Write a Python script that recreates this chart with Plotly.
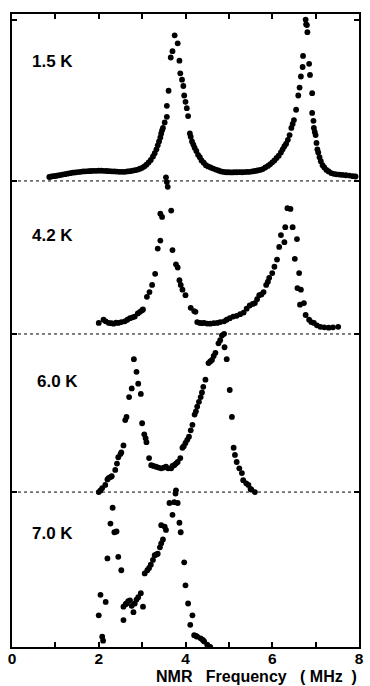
import plotly.graph_objects as go

# NMR spectra at four temperatures, stacked with vertical offsets
temps = ["1.5 K", "4.2 K", "6.0 K", "7.0 K"]
offsets = [2.945, 1.978, 0.979, 0.0]

freq_15 = [0.86, 0.91, 0.96, 1.01, 1.06, 1.11, 1.16, 1.22, 1.28, 1.34, 1.40, 1.46, 1.52, 1.58,
           1.64, 1.70, 1.76, 1.82, 1.88, 1.94, 2.00, 2.06, 2.12, 2.18, 2.24, 2.30, 2.36, 2.42,
           2.48, 2.54, 2.60, 2.66, 2.72, 2.78, 2.84, 2.90, 2.95, 3.00, 3.05, 3.10, 3.15, 3.20,
           3.25, 3.29, 3.33, 3.36, 3.39, 3.42, 3.44, 3.46, 3.48, 3.52, 3.57, 3.57, 3.61, 3.66,
           3.70, 3.75, 3.82, 3.86, 3.88, 3.92, 3.95, 3.97, 4.00, 4.03, 4.06, 4.10, 4.12, 4.15,
           4.18, 4.21, 4.25, 4.29, 4.33, 4.37, 4.42, 4.47, 4.52, 4.58, 4.64, 4.70, 4.76, 4.82,
           4.88, 4.94, 5.00, 5.06, 5.12, 5.18, 5.24, 5.30, 5.36, 5.42, 5.48, 5.54, 5.60, 5.66,
           5.72, 5.78, 5.84, 5.90, 5.95, 6.00, 6.05, 6.10, 6.15, 6.20, 6.24, 6.28, 6.32, 6.36,
           6.40, 6.44, 6.47, 6.50, 6.55, 6.60, 6.63, 6.66, 6.70, 6.71, 6.77, 6.78, 6.80, 6.81,
           6.85, 6.87, 6.92, 6.92, 6.95, 6.96, 6.98, 7.00, 7.02, 7.04, 7.06, 7.09, 7.12, 7.16,
           7.20, 7.25, 7.30, 7.36, 7.42, 7.48, 7.55, 7.62, 7.70, 7.78, 7.86, 7.92]
amp_15 = [0.025, 0.028, 0.030, 0.032, 0.035, 0.037, 0.040, 0.043, 0.046, 0.049, 0.052, 0.054, 0.056, 0.058,
          0.060, 0.061, 0.062, 0.063, 0.064, 0.064, 0.065, 0.065, 0.064, 0.063, 0.062, 0.061, 0.060, 0.059,
          0.058, 0.058, 0.058, 0.060, 0.062, 0.065, 0.068, 0.072, 0.077, 0.083, 0.092, 0.103, 0.117, 0.133,
          0.155, 0.175, 0.200, 0.225, 0.250, 0.275, 0.300, 0.320, 0.335, 0.370, 0.405, 0.475, 0.570, 0.780,
          0.820, 0.920, 0.870, 0.760, 0.680, 0.640, 0.600, 0.540, 0.500, 0.460, 0.410, 0.300, 0.280, 0.250,
          0.230, 0.210, 0.190, 0.165, 0.150, 0.130, 0.115, 0.100, 0.092, 0.085, 0.078, 0.072, 0.066, 0.060,
          0.057, 0.055, 0.055, 0.054, 0.055, 0.055, 0.056, 0.055, 0.056, 0.057, 0.058, 0.060, 0.063, 0.066,
          0.070, 0.075, 0.085, 0.095, 0.105, 0.118, 0.130, 0.145, 0.160, 0.180, 0.200, 0.220, 0.235, 0.260,
          0.290, 0.335, 0.360, 0.385, 0.450, 0.540, 0.590, 0.660, 0.720, 0.790, 1.020, 0.990, 0.985, 0.940,
          0.740, 0.670, 0.555, 0.430, 0.380, 0.335, 0.310, 0.290, 0.240, 0.200, 0.180, 0.150, 0.125, 0.100,
          0.085, 0.070, 0.060, 0.050, 0.045, 0.042, 0.040, 0.038, 0.036, 0.034, 0.030, 0.028]

freq_42 = [2.00, 2.11, 2.16, 2.23, 2.29, 2.34, 2.40, 2.45, 2.52, 2.60, 2.66, 2.72, 2.78, 2.83,
           2.90, 2.95, 3.00, 3.02, 3.11, 3.17, 3.23, 3.30, 3.36, 3.42, 3.42, 3.46, 3.55, 3.57,
           3.59, 3.67, 3.70, 3.78, 3.82, 3.86, 3.89, 3.93, 4.00, 4.12, 4.20, 4.23, 4.27, 4.33,
           4.38, 4.43, 4.50, 4.57, 4.65, 4.73, 4.80, 4.89, 4.95, 5.02, 5.10, 5.18, 5.26, 5.34,
           5.41, 5.48, 5.55, 5.60, 5.65, 5.70, 5.75, 5.80, 5.86, 5.90, 5.93, 6.00, 6.05, 6.11,
           6.16, 6.20, 6.28, 6.30, 6.35, 6.42, 6.47, 6.57, 6.52, 6.62, 6.58, 6.66, 6.64, 6.73,
           6.77, 6.85, 6.90, 6.96, 7.03, 7.11, 7.20, 7.30, 7.40, 7.52]
amp_42 = [0.070, 0.090, 0.080, 0.070, 0.068, 0.065, 0.072, 0.070, 0.075, 0.080, 0.090, 0.100, 0.105, 0.110,
          0.130, 0.140, 0.150, 0.155, 0.235, 0.265, 0.310, 0.380, 0.540, 0.590, 0.760, 0.740, 0.990, 0.960,
          0.930, 0.780, 0.530, 0.440, 0.420, 0.340, 0.310, 0.280, 0.245, 0.165, 0.145, 0.140, 0.075, 0.070,
          0.068, 0.070, 0.066, 0.065, 0.068, 0.070, 0.075, 0.080, 0.090, 0.100, 0.110, 0.115, 0.125, 0.135,
          0.160, 0.180, 0.190, 0.195, 0.220, 0.245, 0.250, 0.265, 0.310, 0.330, 0.355, 0.385, 0.425, 0.470,
          0.550, 0.625, 0.580, 0.675, 0.795, 0.790, 0.675, 0.600, 0.475, 0.385, 0.290, 0.280, 0.185, 0.195,
          0.120, 0.090, 0.075, 0.070, 0.055, 0.045, 0.042, 0.040, 0.042, 0.045]

freq_60 = [2.00, 2.04, 2.08, 2.15, 2.20, 2.23, 2.27, 2.30, 2.38, 2.42, 2.45, 2.50, 2.52, 2.57,
           2.61, 2.64, 2.70, 2.76, 2.81, 2.87, 2.91, 2.97, 3.00, 3.05, 3.08, 3.10, 3.16, 3.21,
           3.26, 3.32, 3.38, 3.44, 3.50, 3.55, 3.60, 3.67, 3.70, 3.74, 3.78, 3.82, 3.88, 3.93,
           3.96, 4.00, 4.04, 4.08, 4.12, 4.16, 4.21, 4.24, 4.27, 4.31, 4.35, 4.38, 4.41, 4.46,
           4.53, 4.57, 4.61, 4.65, 4.69, 4.76, 4.80, 4.84, 4.89, 4.90, 4.95, 5.02, 5.07, 5.11,
           5.14, 5.18, 5.24, 5.30, 5.33, 5.40, 5.45, 5.50, 5.52, 5.60]
amp_60 = [0.000, 0.010, 0.025, 0.045, 0.080, 0.090, 0.095, 0.100, 0.140, 0.180, 0.220, 0.240, 0.250, 0.295,
          0.455, 0.475, 0.600, 0.655, 0.840, 0.760, 0.685, 0.620, 0.435, 0.365, 0.340, 0.315, 0.215, 0.170,
          0.165, 0.160, 0.155, 0.150, 0.155, 0.160, 0.150, 0.150, 0.165, 0.170, 0.180, 0.190, 0.215, 0.280,
          0.290, 0.310, 0.330, 0.350, 0.390, 0.425, 0.490, 0.510, 0.540, 0.570, 0.600, 0.630, 0.665, 0.710,
          0.815, 0.825, 0.835, 0.860, 0.880, 0.940, 0.960, 0.990, 1.000, 0.915, 0.840, 0.645, 0.475, 0.280,
          0.235, 0.190, 0.150, 0.120, 0.075, 0.055, 0.045, 0.020, 0.015, 0.000]

freq_70 = [2.00, 2.04, 2.08, 2.10, 2.16, 2.20, 2.27, 2.32, 2.36, 2.41, 2.45, 2.52, 2.57, 2.57,
           2.62, 2.64, 2.68, 2.72, 2.76, 2.80, 2.83, 2.87, 2.91, 2.97, 3.02, 3.06, 3.12, 3.16,
           3.20, 3.25, 3.29, 3.33, 3.36, 3.41, 3.44, 3.48, 3.44, 3.52, 3.55, 3.63, 3.70, 3.74,
           3.77, 3.78, 3.82, 3.86, 3.89, 3.97, 4.00, 4.06, 4.16, 4.11, 4.20, 4.24, 4.27, 4.35,
           4.40, 4.43, 4.50, 4.57]
amp_70 = [0.200, 0.330, 0.065, 0.040, 0.285, 0.560, 0.780, 0.880, 0.725, 0.730, 0.570, 0.485, 0.170, 0.255,
          0.270, 0.275, 0.290, 0.295, 0.260, 0.220, 0.275, 0.300, 0.315, 0.340, 0.255, 0.465, 0.485, 0.500,
          0.520, 0.550, 0.580, 0.585, 0.590, 0.630, 0.655, 0.680, 0.770, 0.760, 0.740, 0.910, 0.835, 0.915,
          0.970, 0.990, 0.910, 0.785, 0.725, 0.535, 0.390, 0.275, 0.200, 0.140, 0.075, 0.070, 0.065, 0.055,
          0.045, 0.035, 0.015, 0.000]

spectra = [(freq_15, amp_15), (freq_42, amp_42), (freq_60, amp_60), (freq_70, amp_70)]

# label anchor for each temperature tag (MHz, height above its own baseline)
label_x = [0.41, 0.41, 0.52, 0.41]
label_dy = [0.752, 0.625, 0.696, 0.720]

x_ticks = [0, 1, 2, 3, 4, 5, 6, 7, 8]
x_ticktext = ["0", "", "2", "", "4", "", "6", "", "8"]

AXIS_TITLE = "NMR\u00a0\u00a0\u00a0Frequency\u00a0\u00a0\u00a0(\u00a0MHz\u00a0\u00a0)"
FONT = "Liberation Sans, Arial"

fig = go.Figure()
for (fx, fy), off in zip(spectra, offsets):
    fig.add_trace(go.Scatter(
        x=fx, y=[v + off for v in fy], mode="markers",
        marker=dict(color="black", size=5.8, symbol="circle"),
        showlegend=False, hoverinfo="skip"))

# dotted baselines separating the stacked spectra
for off in offsets:
    if off > 0:
        fig.add_shape(type="line", xref="x", yref="y", x0=0, x1=8, y0=off, y1=off,
                      line=dict(color="black", width=1, dash="dot"), layer="below")

for t, lx, dy, off in zip(temps, label_x, label_dy, offsets):
    fig.add_annotation(x=lx, y=off + dy, xref="x", yref="y", text=t, showarrow=False,
                       xanchor="left", yanchor="middle",
                       font=dict(family=FONT, size=17, color="black", weight="bold"))

fig.add_annotation(x=0.996, y=-0.0616, xref="paper", yref="paper",
                   text=AXIS_TITLE, showarrow=False,
                   xanchor="right", yanchor="bottom", borderpad=0,
                   font=dict(family=FONT, size=16, color="black", weight="bold"))

fig.update_xaxes(range=[0, 8], tickvals=x_ticks, ticktext=x_ticktext,
                 ticks="inside", ticklen=5, tickwidth=1.5, tickcolor="black",
                 showline=True, linecolor="black", linewidth=2, mirror="ticks",
                 showgrid=False, zeroline=False, ticklabelstandoff=-4,
                 tickfont=dict(family=FONT, size=15.5, color="black", weight="bold"))
fig.update_yaxes(range=[0, 4], tickvals=offsets + [3.96], showticklabels=False,
                 ticks="inside", ticklen=5, tickwidth=1.5, tickcolor="black",
                 showline=True, linecolor="black", linewidth=2, mirror="ticks",
                 showgrid=False, zeroline=False)

fig.update_layout(width=370, height=686, margin=dict(l=12, r=6, t=14, b=39),
                  paper_bgcolor="white", plot_bgcolor="white")

fig.write_html("out.html")
